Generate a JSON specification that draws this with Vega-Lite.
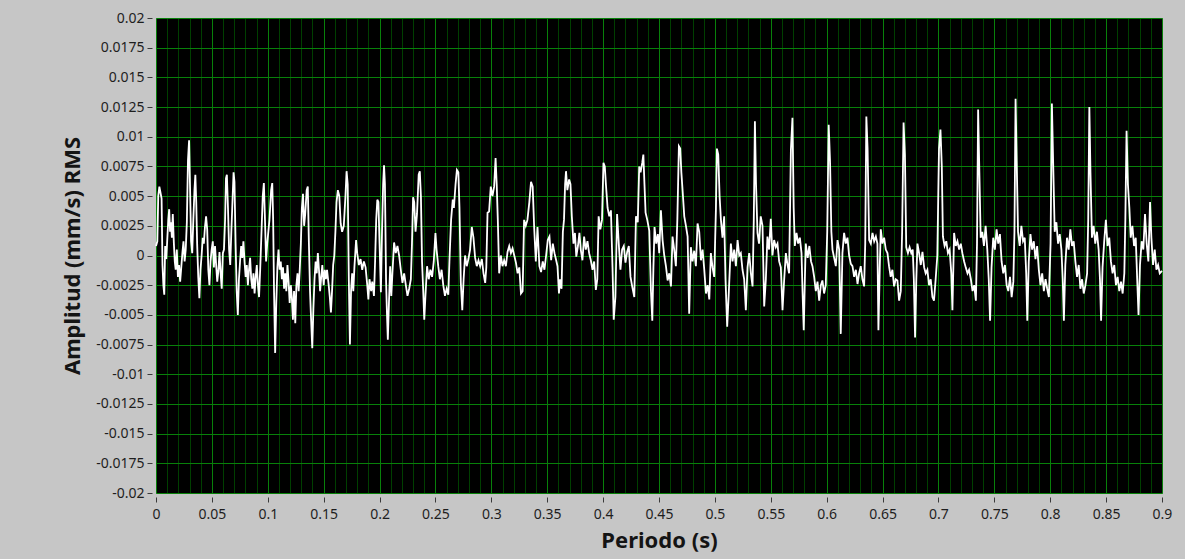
{
"$schema": "https://vega.github.io/schema/vega-lite/v6.json",
"width": 1006, "height": 475,
"autosize": {"type": "none"},
"padding": {"left": 156, "top": 18, "right": 23, "bottom": 66},
"background": "#c6c6c6",
"config": {"view": {"fill": "#000000", "stroke": "#8a8a8a", "strokeWidth": 1}, "font": "Noto Sans"},
"data": {"values": [
{"t":0,"v":0.0008},{"t":0.0012,"v":0.0012},{"t":0.002,"v":0.005},{"t":0.003,"v":0.0058},{"t":0.0042,"v":0.0052},{"t":0.005,"v":0.0048},{"t":0.0058,"v":-0.0008},{"t":0.0066,"v":-0.0025},{"t":0.0074,"v":-0.0033},{"t":0.0082,"v":0.0008},{"t":0.0092,"v":-0.0003},{"t":0.01,"v":0.0012},{"t":0.011,"v":0.003},{"t":0.0118,"v":0.0039},{"t":0.0126,"v":0.002},{"t":0.0134,"v":0.0028},{"t":0.0142,"v":0.0015},{"t":0.015,"v":0.0035},{"t":0.016,"v":0.001},{"t":0.0168,"v":-0.0005},{"t":0.0176,"v":-0.0012},{"t":0.0186,"v":0.0005},{"t":0.0196,"v":-0.0018},{"t":0.0206,"v":-0.0008},{"t":0.0216,"v":-0.0022},{"t":0.0226,"v":-0.001},{"t":0.0236,"v":0.0002},{"t":0.0246,"v":0.0012},{"t":0.0256,"v":-0.0005},{"t":0.0266,"v":0.0005},{"t":0.0276,"v":0.0028},{"t":0.0286,"v":0.008},{"t":0.0296,"v":0.0097},{"t":0.0304,"v":0.006},{"t":0.0314,"v":0.0012},{"t":0.0324,"v":0.0002},{"t":0.0334,"v":0.003},{"t":0.0344,"v":0.0055},{"t":0.0352,"v":0.0068},{"t":0.036,"v":0.0045},{"t":0.0368,"v":0.001},{"t":0.0378,"v":-0.0018},{"t":0.0388,"v":-0.0036},{"t":0.0398,"v":-0.0012},{"t":0.0408,"v":0},{"t":0.0418,"v":0.0015},{"t":0.0428,"v":0.001},{"t":0.0438,"v":0.0024},{"t":0.0448,"v":0.0033},{"t":0.0458,"v":0.0022},{"t":0.0468,"v":-0.0012},{"t":0.0478,"v":-0.0025},{"t":0.0488,"v":-0.0005},{"t":0.0498,"v":0.0005},{"t":0.0508,"v":0.0012},{"t":0.0518,"v":-0.001},{"t":0.0528,"v":0.0008},{"t":0.0538,"v":-0.0008},{"t":0.0548,"v":-0.0022},{"t":0.0558,"v":-0.0013},{"t":0.0568,"v":0.0003},{"t":0.0578,"v":-0.0015},{"t":0.0588,"v":-0.0028},{"t":0.0598,"v":0.0002},{"t":0.0608,"v":0.0005},{"t":0.0618,"v":0.003},{"t":0.0626,"v":0.0065},{"t":0.0634,"v":0.0068},{"t":0.0644,"v":0.004},{"t":0.0654,"v":0.0005},{"t":0.0664,"v":-0.0008},{"t":0.0674,"v":0.002},{"t":0.0684,"v":0.0045},{"t":0.0694,"v":0.007},{"t":0.0702,"v":0.0062},{"t":0.0712,"v":0.001},{"t":0.0722,"v":-0.003},{"t":0.0732,"v":-0.005},{"t":0.0742,"v":-0.002},{"t":0.0752,"v":-0.0005},{"t":0.0762,"v":0.0008},{"t":0.0772,"v":-0.0002},{"t":0.0782,"v":0.0012},{"t":0.0792,"v":-0.0005},{"t":0.0802,"v":-0.0018},{"t":0.0812,"v":-0.0008},{"t":0.0822,"v":-0.0025},{"t":0.0832,"v":-0.0012},{"t":0.0842,"v":-0.0002},{"t":0.0852,"v":-0.002},{"t":0.0862,"v":-0.0028},{"t":0.0872,"v":-0.0015},{"t":0.0882,"v":-0.0032},{"t":0.0892,"v":-0.0018},{"t":0.0902,"v":-0.0008},{"t":0.0912,"v":-0.0025},{"t":0.0922,"v":-0.0035},{"t":0.0932,"v":-0.0012},{"t":0.0942,"v":0.0015},{"t":0.0955,"v":0.005},{"t":0.0965,"v":0.0061},{"t":0.0975,"v":0.003},{"t":0.0985,"v":-0.0005},{"t":0.0995,"v":0.001},{"t":0.1005,"v":0.002},{"t":0.1015,"v":0.003},{"t":0.103,"v":0.0055},{"t":0.104,"v":0.0061},{"t":0.1048,"v":0.003},{"t":0.1056,"v":-0.003},{"t":0.1066,"v":-0.0082},{"t":0.1076,"v":-0.004},{"t":0.1086,"v":-0.001},{"t":0.1096,"v":0.0005},{"t":0.1106,"v":-0.0012},{"t":0.1116,"v":-0.0005},{"t":0.1126,"v":-0.002},{"t":0.1136,"v":-0.001},{"t":0.1146,"v":-0.0028},{"t":0.1156,"v":-0.0015},{"t":0.1166,"v":-0.003},{"t":0.1176,"v":-0.0008},{"t":0.1186,"v":-0.0022},{"t":0.1196,"v":-0.004},{"t":0.1206,"v":-0.0025},{"t":0.1215,"v":-0.0035},{"t":0.1225,"v":-0.0054},{"t":0.1235,"v":-0.003},{"t":0.1246,"v":-0.0057},{"t":0.1256,"v":-0.0025},{"t":0.1266,"v":-0.0015},{"t":0.1276,"v":-0.003},{"t":0.1286,"v":-0.0012},{"t":0.1296,"v":0.001},{"t":0.1305,"v":0.004},{"t":0.1315,"v":0.0052},{"t":0.1325,"v":0.0025},{"t":0.1335,"v":0.0035},{"t":0.1348,"v":0.0055},{"t":0.1358,"v":0.0058},{"t":0.1368,"v":0.001},{"t":0.1378,"v":-0.003},{"t":0.1388,"v":-0.0055},{"t":0.1398,"v":-0.0078},{"t":0.1408,"v":-0.0045},{"t":0.1418,"v":-0.002},{"t":0.1428,"v":-0.0005},{"t":0.1438,"v":-0.0015},{"t":0.1448,"v":0.0002},{"t":0.1458,"v":-0.0012},{"t":0.1468,"v":-0.003},{"t":0.1478,"v":-0.0018},{"t":0.1488,"v":-0.0008},{"t":0.15,"v":-0.0025},{"t":0.151,"v":-0.0012},{"t":0.152,"v":-0.002},{"t":0.153,"v":-0.0012},{"t":0.1545,"v":-0.0025},{"t":0.1555,"v":-0.0035},{"t":0.1565,"v":-0.0048},{"t":0.1575,"v":-0.003},{"t":0.1585,"v":-0.0008},{"t":0.1595,"v":0},{"t":0.1605,"v":0.002},{"t":0.1615,"v":0.0045},{"t":0.1627,"v":0.0055},{"t":0.164,"v":0.005},{"t":0.1652,"v":0.0027},{"t":0.1665,"v":0.002},{"t":0.168,"v":0.0025},{"t":0.1695,"v":0.005},{"t":0.1705,"v":0.0071},{"t":0.1715,"v":0.006},{"t":0.1725,"v":-0.002},{"t":0.1735,"v":-0.0075},{"t":0.1745,"v":-0.003},
{"t":0.1755,"v":-0.0015},{"t":0.1765,"v":-0.003},{"t":0.1775,"v":-0.001},{"t":0.179,"v":0.0013},{"t":0.18,"v":0.0002},{"t":0.1815,"v":-0.0008},{"t":0.183,"v":-0.0003},{"t":0.1845,"v":-0.0012},{"t":0.186,"v":-0.0005},{"t":0.1875,"v":-0.001},{"t":0.189,"v":-0.0025},{"t":0.19,"v":-0.0037},{"t":0.191,"v":-0.002},{"t":0.1925,"v":-0.003},{"t":0.1935,"v":-0.0022},{"t":0.195,"v":-0.0034},{"t":0.196,"v":-0.0005},{"t":0.197,"v":0.003},{"t":0.198,"v":0.0047},{"t":0.199,"v":0.0045},{"t":0.2,"v":0.001},{"t":0.2012,"v":-0.0031},{"t":0.2022,"v":0.002},{"t":0.2032,"v":0.006},{"t":0.204,"v":0.0076},{"t":0.2048,"v":0.006},{"t":0.2058,"v":-0.002},{"t":0.2066,"v":-0.0048},{"t":0.2074,"v":-0.0071},{"t":0.2084,"v":-0.004},{"t":0.2095,"v":-0.0009},{"t":0.2105,"v":-0.0034},{"t":0.2115,"v":-0.0015},{"t":0.213,"v":0.0011},{"t":0.2145,"v":0.0002},{"t":0.216,"v":0.0008},{"t":0.2175,"v":0},{"t":0.219,"v":-0.0012},{"t":0.2205,"v":-0.0023},{"t":0.222,"v":-0.0015},{"t":0.2235,"v":-0.0025},{"t":0.225,"v":-0.0034},{"t":0.2265,"v":-0.0028},{"t":0.228,"v":-0.002},{"t":0.229,"v":0.001},{"t":0.23,"v":0.0049},{"t":0.231,"v":0.0045},{"t":0.2322,"v":0.002},{"t":0.2335,"v":0.0035},{"t":0.235,"v":0.0068},{"t":0.236,"v":0.0071},{"t":0.237,"v":0.005},{"t":0.238,"v":-0.0005},{"t":0.239,"v":-0.0028},{"t":0.24,"v":-0.0054},{"t":0.241,"v":-0.0035},{"t":0.2425,"v":-0.0009},{"t":0.244,"v":-0.002},{"t":0.2455,"v":-0.0012},{"t":0.247,"v":-0.0018},{"t":0.2485,"v":-0.0005},{"t":0.25,"v":0.0019},{"t":0.251,"v":0.0005},{"t":0.2525,"v":-0.0009},{"t":0.254,"v":-0.002},{"t":0.2555,"v":-0.0012},{"t":0.257,"v":-0.0025},{"t":0.2585,"v":-0.0034},{"t":0.26,"v":-0.0028},{"t":0.2615,"v":-0.0033},{"t":0.2625,"v":-0.0005},{"t":0.264,"v":0.003},{"t":0.2655,"v":0.0047},{"t":0.2665,"v":0.004},{"t":0.268,"v":0.006},{"t":0.2692,"v":0.0072},{"t":0.2705,"v":0.007},{"t":0.2715,"v":0.004},{"t":0.2727,"v":-0.0023},{"t":0.274,"v":-0.0046},{"t":0.2752,"v":-0.002},{"t":0.2765,"v":0},{"t":0.278,"v":-0.0009},{"t":0.2795,"v":-0.0003},{"t":0.281,"v":0.0005},{"t":0.2825,"v":0.0024},{"t":0.284,"v":0.0015},{"t":0.2855,"v":-0.0002},{"t":0.287,"v":-0.0009},{"t":0.2885,"v":-0.0004},{"t":0.29,"v":-0.0009},{"t":0.2915,"v":-0.0003},{"t":0.293,"v":-0.0015},{"t":0.2945,"v":-0.0023},{"t":0.2955,"v":-0.001},{"t":0.2966,"v":0.0036},{"t":0.298,"v":0.0037},{"t":0.2995,"v":0.0058},{"t":0.301,"v":0.005},{"t":0.3025,"v":0.0058},{"t":0.3038,"v":0.0082},{"t":0.3048,"v":0.006},{"t":0.3058,"v":0.003},{"t":0.307,"v":-0.0015},{"t":0.3085,"v":0},{"t":0.31,"v":-0.0009},{"t":0.3115,"v":-0.0004},{"t":0.313,"v":-0.0009},{"t":0.3145,"v":0.0003},{"t":0.316,"v":0.0008},{"t":0.3175,"v":0.0002},{"t":0.319,"v":0.0006},{"t":0.3205,"v":0},{"t":0.322,"v":-0.0006},{"t":0.3235,"v":-0.0015},{"t":0.325,"v":-0.001},{"t":0.3265,"v":-0.0032},{"t":0.328,"v":-0.003},{"t":0.3293,"v":0.003},{"t":0.3308,"v":0.0025},{"t":0.3323,"v":0.003},{"t":0.334,"v":0.0045},{"t":0.3355,"v":0.0062},{"t":0.337,"v":0.0058},{"t":0.3383,"v":0.0024},{"t":0.3398,"v":-0.0005},{"t":0.3413,"v":0.0024},{"t":0.343,"v":-0.0009},{"t":0.3445,"v":-0.0014},{"t":0.346,"v":-0.0005},{"t":0.3475,"v":-0.0012},{"t":0.349,"v":0},{"t":0.3505,"v":0.0013},
{"t":0.352,"v":0.0016},{"t":0.3535,"v":-0.0004},{"t":0.355,"v":0.001},{"t":0.3565,"v":0.0002},{"t":0.358,"v":-0.0004},{"t":0.3592,"v":-0.0009},{"t":0.3605,"v":-0.0032},{"t":0.3615,"v":-0.002},{"t":0.3628,"v":-0.0028},{"t":0.364,"v":0.002},{"t":0.365,"v":0.003},{"t":0.366,"v":0.006},{"t":0.3668,"v":0.0071},{"t":0.368,"v":0.0055},{"t":0.3696,"v":0.0064},{"t":0.3708,"v":0.006},{"t":0.372,"v":0.0033},{"t":0.3735,"v":0.001},{"t":0.3748,"v":0.0019},{"t":0.376,"v":-0.0001},{"t":0.3775,"v":0.0008},{"t":0.3788,"v":0.0019},{"t":0.38,"v":0.0005},{"t":0.3815,"v":-0.0004},{"t":0.383,"v":0.0016},{"t":0.3845,"v":0.0005},{"t":0.386,"v":0.0012},{"t":0.3875,"v":0.0002},{"t":0.389,"v":-0.0004},{"t":0.3905,"v":-0.0012},{"t":0.392,"v":-0.0005},{"t":0.3935,"v":-0.0029},{"t":0.3948,"v":-0.002},{"t":0.396,"v":0.0033},{"t":0.3975,"v":0.0022},{"t":0.399,"v":0.003},{"t":0.4003,"v":0.0078},{"t":0.4015,"v":0.0075},{"t":0.4025,"v":0.006},{"t":0.404,"v":0.004},{"t":0.4055,"v":0.0033},{"t":0.407,"v":0.0038},{"t":0.4084,"v":-0.001},{"t":0.4095,"v":-0.0054},{"t":0.411,"v":-0.0035},{"t":0.4125,"v":0.0035},{"t":0.414,"v":0.001},{"t":0.4155,"v":-0.0012},{"t":0.417,"v":0.0005},{"t":0.4185,"v":0.0008},{"t":0.42,"v":-0.0006},{"t":0.4215,"v":0.0003},{"t":0.423,"v":0.0008},{"t":0.4245,"v":-0.0018},{"t":0.426,"v":-0.0026},{"t":0.4279,"v":-0.0035},{"t":0.4294,"v":0.0033},{"t":0.431,"v":0.0028},
{"t":0.4323,"v":0.0075},{"t":0.4335,"v":0.007},{"t":0.435,"v":0.0078},{"t":0.436,"v":0.0085},{"t":0.437,"v":0.006},{"t":0.438,"v":0.0036},{"t":0.4395,"v":0.003},{"t":0.4413,"v":0.0021},{"t":0.4428,"v":-0.003},{"t":0.444,"v":-0.0055},{"t":0.445,"v":-0.001},{"t":0.446,"v":0.0024},{"t":0.4475,"v":0.001},{"t":0.449,"v":0.0018},{"t":0.4502,"v":0.0002},{"t":0.4517,"v":0.0038},{"t":0.4532,"v":0.0013},{"t":0.4547,"v":0},{"t":0.4562,"v":-0.0009},{"t":0.4577,"v":-0.0021},{"t":0.4592,"v":-0.0015},{"t":0.4607,"v":-0.0026},{"t":0.4621,"v":0.0016},{"t":0.4636,"v":0.0005},{"t":0.4651,"v":-0.0009},{"t":0.4664,"v":0.003},{"t":0.4678,"v":0.0092},{"t":0.469,"v":0.009},{"t":0.47,"v":0.007},{"t":0.4711,"v":0.0055},{"t":0.4726,"v":0.0033},{"t":0.4741,"v":0.0025},{"t":0.4756,"v":0.0016},{"t":0.477,"v":-0.0049},{"t":0.4785,"v":0.0007},{"t":0.48,"v":-0.0005},{"t":0.4815,"v":0.0004},{"t":0.483,"v":-0.0009},{"t":0.4845,"v":0.0027},{"t":0.486,"v":0.002},{"t":0.4875,"v":-0.0004},{"t":0.489,"v":0.0005},{"t":0.4905,"v":-0.0012},{"t":0.492,"v":-0.0032},{"t":0.4935,"v":-0.0025},{"t":0.495,"v":-0.0037},{"t":0.4964,"v":0.0002},{"t":0.4979,"v":-0.001},{"t":0.4994,"v":-0.0018},{"t":0.5009,"v":0.0038},{"t":0.5018,"v":0.009},{"t":0.503,"v":0.0085},{"t":0.5042,"v":0.005},{"t":0.5054,"v":0.003},{"t":0.5068,"v":0.0015},{"t":0.5083,"v":0.0033},{"t":0.5095,"v":-0.002},{"t":0.511,"v":-0.006},{"t":0.5125,"v":-0.003},{"t":0.5143,"v":0.001},{"t":0.5158,"v":-0.0005},{"t":0.5173,"v":0.0005},{"t":0.5188,"v":-0.0009},{"t":0.5203,"v":0.0013},{"t":0.5218,"v":0},{"t":0.5232,"v":0.0002},{"t":0.5247,"v":-0.0012},{"t":0.5262,"v":-0.002},{"t":0.5277,"v":-0.0046},{"t":0.5292,"v":-0.001},{"t":0.5307,"v":0.0002},{"t":0.5322,"v":-0.0015},{"t":0.5337,"v":-0.0026},{"t":0.5348,"v":0.003},{"t":0.5358,"v":0.0113},{"t":0.5368,"v":0.006},{"t":0.5381,"v":0.0019},{"t":0.5395,"v":0.001},{"t":0.541,"v":0.0033},{"t":0.5426,"v":0.0025},{"t":0.5441,"v":-0.0043},{"t":0.5456,"v":-0.002},{"t":0.547,"v":0.0016},{"t":0.5485,"v":0.0005},{"t":0.55,"v":0.0031},{"t":0.5515,"v":0},{"t":0.553,"v":0.0013},{"t":0.5545,"v":0.0007},{"t":0.556,"v":0.001},{"t":0.5575,"v":-0.0005},{"t":0.559,"v":-0.001},{"t":0.5605,"v":-0.0046},{"t":0.562,"v":-0.002},{"t":0.5635,"v":0.0002},{"t":0.565,"v":-0.0008},{"t":0.5664,"v":-0.0015},{"t":0.568,"v":0.0089},{"t":0.5694,"v":0.0116},{"t":0.5705,"v":0.004},{"t":0.5715,"v":0.0008},{"t":0.573,"v":0.0019},{"t":0.5745,"v":0.001},{"t":0.576,"v":0.0015},{"t":0.5775,"v":0.0002},{"t":0.5784,"v":-0.003},{"t":0.5795,"v":-0.0063},{"t":0.5805,"v":-0.002},{"t":0.5813,"v":0.001},{"t":0.583,"v":-0.0002},{"t":0.5845,"v":0.0008},{"t":0.586,"v":-0.0005},{"t":0.5873,"v":-0.0009},{"t":0.5888,"v":-0.0018},{"t":0.5903,"v":-0.003},{"t":0.5918,"v":-0.0022},{"t":0.5933,"v":-0.0038},{"t":0.5948,"v":-0.0025},{"t":0.5962,"v":-0.0021},{"t":0.5977,"v":-0.0032},{"t":0.5992,"v":-0.0025},{"t":0.6005,"v":0.002},{"t":0.6018,"v":0.011},{"t":0.603,"v":0.008},{"t":0.6042,"v":0.002},{"t":0.6052,"v":0.0005},{"t":0.6067,"v":-0.0002},{"t":0.6082,"v":-0.0009},{"t":0.6097,"v":0.0013},{"t":0.6112,"v":0.0005},{"t":0.6126,"v":-0.0066},{"t":0.6141,"v":0.0002},{"t":0.6156,"v":0.0019},{"t":0.6171,"v":0.001},{"t":0.6186,"v":0.0015},{"t":0.6201,"v":0},{"t":0.6216,"v":-0.0007},{"t":0.6231,"v":-0.0009},{"t":0.6246,"v":-0.0018},{"t":0.6261,"v":-0.0012},{"t":0.6276,"v":-0.0024},{"t":0.629,"v":-0.0015},{"t":0.6305,"v":-0.0009},{"t":0.632,"v":-0.002},{"t":0.6335,"v":-0.0026},{"t":0.6345,"v":0.001},{"t":0.6355,"v":0.0117},{"t":0.6366,"v":0.009},{"t":0.638,"v":0.0013},{"t":0.6395,"v":0.001},{"t":0.641,"v":0.0019},{"t":0.6425,"v":0.0012},{"t":0.644,"v":0.0016},{"t":0.6454,"v":0.001},{"t":0.6463,"v":-0.0063},{"t":0.6475,"v":-0.001},{"t":0.6484,"v":0.0022},{"t":0.6499,"v":0.001},{"t":0.6514,"v":0.0015},{"t":0.6529,"v":0.0005},{"t":0.6544,"v":0.0002},{"t":0.6558,"v":-0.0009},{"t":0.6573,"v":-0.0018},{"t":0.6588,"v":-0.0012},{"t":0.6603,"v":-0.0026},{"t":0.6618,"v":-0.002},{"t":0.6633,"v":-0.0021},{"t":0.6648,"v":-0.0038},{"t":0.6663,"v":-0.003},{"t":0.6675,"v":0.002},{"t":0.6688,"v":0.0112},{"t":0.67,"v":0.0085},{"t":0.6712,"v":0.0007},{"t":0.6727,"v":0.0002},{"t":0.6742,"v":0.0007},{"t":0.6757,"v":0.0002},{"t":0.677,"v":0.0005},{"t":0.678,"v":-0.002},{"t":0.6791,"v":-0.0069},{"t":0.6802,"v":-0.002},{"t":0.6812,"v":0.001},{"t":0.6827,"v":0.0002},{"t":0.6842,"v":-0.0008},{"t":0.6857,"v":0.0003},{"t":0.6872,"v":-0.001},{"t":0.6886,"v":-0.0015},{"t":0.6901,"v":-0.0012},{"t":0.6916,"v":-0.0025},{"t":0.6931,"v":-0.002},{"t":0.6946,"v":-0.0035},{"t":0.696,"v":-0.0038},{"t":0.6975,"v":-0.002},{"t":0.699,"v":0},{"t":0.7005,"v":0.009},{"t":0.7018,"v":0.0106},{"t":0.703,"v":0.0075},{"t":0.704,"v":0.0016},{"t":0.7055,"v":0.0008},{"t":0.707,"v":0.0012},{"t":0.7085,"v":0.0002},{"t":0.71,"v":0.0005},{"t":0.7115,"v":-0.0015},{"t":0.7125,"v":-0.0046},{"t":0.714,"v":0.0019},{"t":0.7155,"v":0.0008},{"t":0.717,"v":0.0012},{"t":0.7185,"v":0.0005},{"t":0.72,"v":0.001},{"t":0.7214,"v":0.0002},{"t":0.723,"v":-0.0005},{"t":0.7244,"v":-0.001},{"t":0.726,"v":-0.0015},{"t":0.7274,"v":-0.0012},
{"t":0.729,"v":-0.002},{"t":0.7305,"v":-0.003},{"t":0.732,"v":-0.0025},{"t":0.7335,"v":-0.0038},{"t":0.7345,"v":0.001},{"t":0.7355,"v":0.0123},{"t":0.7366,"v":0.007},{"t":0.7378,"v":0.0015},{"t":0.7392,"v":0.002},{"t":0.7407,"v":0.0008},{"t":0.7422,"v":0.0025},{"t":0.7437,"v":0.0005},{"t":0.745,"v":-0.002},{"t":0.7462,"v":-0.0055},{"t":0.7475,"v":-0.001},{"t":0.749,"v":0.0015},{"t":0.7505,"v":0.0005},{"t":0.752,"v":0.0022},{"t":0.7535,"v":0.001},{"t":0.755,"v":0.0018},{"t":0.7565,"v":-0.0005},{"t":0.758,"v":-0.0015},{"t":0.7595,"v":-0.0008},{"t":0.761,"v":-0.0025},{"t":0.7625,"v":-0.003},{"t":0.764,"v":-0.0018},{"t":0.7655,"v":-0.0035},{"t":0.767,"v":-0.0022},{"t":0.768,"v":0.002},{"t":0.769,"v":0.0132},{"t":0.77,"v":0.008},{"t":0.7712,"v":0.002},{"t":0.7727,"v":0.0008},{"t":0.7742,"v":0.0025},{"t":0.7757,"v":0.0012},{"t":0.7772,"v":0.0015},{"t":0.7785,"v":-0.0015},{"t":0.7795,"v":-0.0055},{"t":0.7808,"v":-0.0005},{"t":0.7823,"v":0.0018},{"t":0.7838,"v":0.0005},{"t":0.7853,"v":0.0012},{"t":0.7868,"v":-0.0003},{"t":0.7883,"v":0.0008},{"t":0.7898,"v":-0.0012},{"t":0.7913,"v":-0.0025},{"t":0.7928,"v":-0.0015},{"t":0.7943,"v":-0.003},{"t":0.7958,"v":-0.002},{"t":0.7973,"v":-0.0028},{"t":0.7988,"v":-0.0035},{"t":0.8003,"v":0.001},{"t":0.8015,"v":0.0128},{"t":0.8027,"v":0.0075},{"t":0.804,"v":0.002},{"t":0.8055,"v":0.0028},{"t":0.807,"v":0.001},{"t":0.8085,"v":0.0018},{"t":0.81,"v":0.0005},{"t":0.8112,"v":-0.002},{"t":0.8122,"v":-0.0055},{"t":0.8135,"v":-0.0008},{"t":0.815,"v":0.0015},{"t":0.8165,"v":0.0005},{"t":0.818,"v":0.0022},{"t":0.8195,"v":0.0008},{"t":0.821,"v":0.0012},{"t":0.8225,"v":-0.0005},{"t":0.824,"v":-0.0018},{"t":0.8255,"v":-0.0008},{"t":0.827,"v":-0.0028},{"t":0.8285,"v":-0.002},{"t":0.83,"v":-0.0032},{"t":0.8315,"v":-0.0025},{"t":0.833,"v":-0.0015},{"t":0.834,"v":0.003},{"t":0.835,"v":0.0125},{"t":0.836,"v":0.007},{"t":0.8373,"v":0.0015},{"t":0.8388,"v":0.0025},{"t":0.8403,"v":0.001},{"t":0.8418,"v":0.002},{"t":0.8433,"v":0.0005},{"t":0.8445,"v":-0.002},{"t":0.8455,"v":-0.0055},{"t":0.8468,"v":-0.001},{"t":0.8483,"v":0.0012},{"t":0.8498,"v":0.003},{"t":0.8513,"v":0.0008},{"t":0.8528,"v":0.0015},{"t":0.8543,"v":-0.0005},{"t":0.8558,"v":-0.0015},{"t":0.8573,"v":-0.0008},{"t":0.8588,"v":-0.0025},{"t":0.8603,"v":-0.0018},{"t":0.8618,"v":-0.003},{"t":0.8633,"v":-0.0022},{"t":0.8648,"v":-0.0032},{"t":0.8663,"v":-0.0015},{"t":0.8672,"v":0.003},{"t":0.8683,"v":0.0105},{"t":0.8695,"v":0.006},{"t":0.8708,"v":0.004},{"t":0.872,"v":0.0015},{"t":0.8735,"v":0.0025},{"t":0.875,"v":0.0008},{"t":0.8765,"v":0.0015},{"t":0.8778,"v":-0.002},{"t":0.879,"v":-0.005},{"t":0.8803,"v":-0.0008},{"t":0.8818,"v":0.0012},{"t":0.8833,"v":0.0005},{"t":0.8848,"v":0.0035},{"t":0.8863,"v":0.001},{"t":0.8878,"v":-0.0005},{"t":0.8893,"v":0.0045},{"t":0.8905,"v":0.0015},{"t":0.892,"v":-0.0008},{"t":0.8935,"v":0.0005},{"t":0.895,"v":-0.0012},{"t":0.8965,"v":-0.0008},{"t":0.898,"v":-0.0015},{"t":0.9,"v":-0.0013}
]},
"mark": {"type": "line", "color": "#ffffff", "strokeWidth": 1.8},
"encoding": {
"x": {"field": "t", "type": "quantitative",
 "scale": {"domain": [0, 0.9], "nice": false, "zero": false},
 "axis": {"title": "Periodo (s)",
  "values": [0,0.01,0.02,0.03,0.04,0.05,0.06,0.07,0.08,0.09,0.1,0.11,0.12,0.13,0.14,0.15,0.16,0.17,0.18,0.19,0.2,0.21,0.22,0.23,0.24,0.25,0.26,0.27,0.28,0.29,0.3,0.31,0.32,0.33,0.34,0.35,0.36,0.37,0.38,0.39,0.4,0.41,0.42,0.43,0.44,0.45,0.46,0.47,0.48,0.49,0.5,0.51,0.52,0.53,0.54,0.55,0.56,0.57,0.58,0.59,0.6,0.61,0.62,0.63,0.64,0.65,0.66,0.67,0.68,0.69,0.7,0.71,0.72,0.73,0.74,0.75,0.76,0.77,0.78,0.79,0.8,0.81,0.82,0.83,0.84,0.85,0.86,0.87,0.88,0.89,0.9],
  "labelExpr": "abs(datum.value*20 - round(datum.value*20)) < 0.001 ? '' + datum.value : ''",
  "grid": true,
  "gridColor": {"condition": {"test": "abs(datum.value*20 - round(datum.value*20)) < 0.001", "value": "#08800a"}, "value": "#003f00"},
  "gridWidth": 1,
  "tickOpacity": {"condition": {"test": "abs(datum.value*20 - round(datum.value*20)) < 0.001", "value": 1}, "value": 0},
  "domain": false, "offset": 4, "tickSize": 5, "tickColor": "#3a3a3a", "tickWidth": 1,
  "labelFontSize": 14, "labelColor": "#1e1e1e", "labelPadding": 5, "labelFlush": false, "labelOverlap": false,
  "titleFontSize": 22, "titleFontWeight": "bold", "titleColor": "#141414", "titlePadding": 9}},
"y": {"field": "v", "type": "quantitative",
 "scale": {"domain": [-0.02, 0.02], "nice": false, "zero": false},
 "axis": {"title": "Amplitud (mm/s) RMS",
  "values": [-0.02,-0.0175,-0.015,-0.0125,-0.01,-0.0075,-0.005,-0.0025,0,0.0025,0.005,0.0075,0.01,0.0125,0.015,0.0175,0.02],
  "labelExpr": "'' + datum.value",
  "grid": true, "gridColor": "#08800a", "gridWidth": 1,
  "domain": false, "offset": 4, "tickSize": 5, "tickColor": "#3a3a3a", "tickWidth": 1,
  "labelFontSize": 14, "labelColor": "#1e1e1e", "labelPadding": 3, "labelFlush": false, "labelOverlap": false,
  "titleFontSize": 22, "titleFontWeight": "bold", "titleColor": "#141414", "titlePadding": 11}}
}
}
